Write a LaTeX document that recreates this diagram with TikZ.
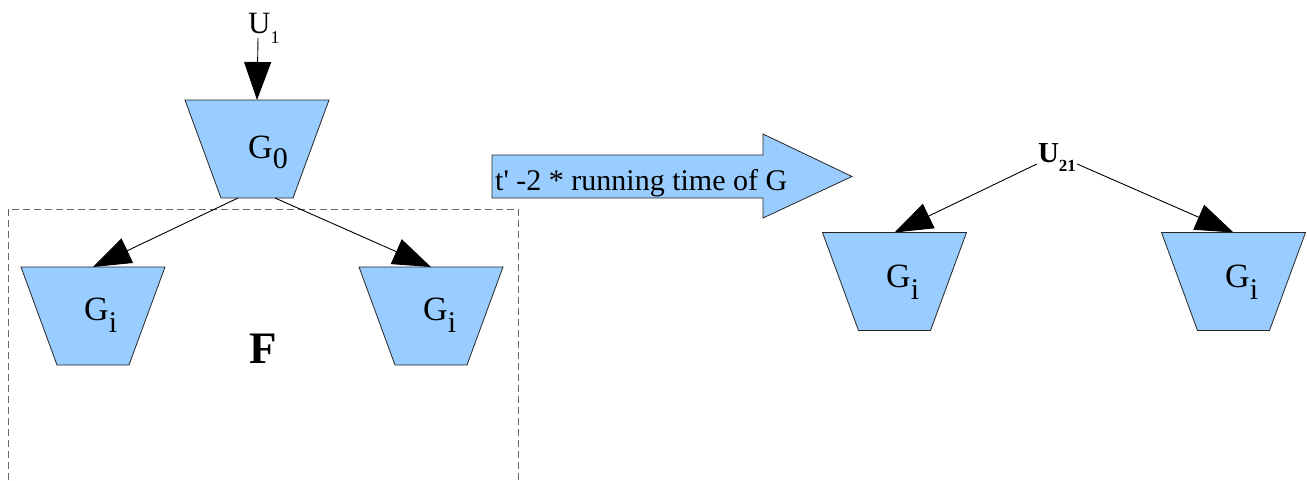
\documentclass[tikz,border=0pt]{standalone}
\usepackage{fontspec}
\setmainfont{Liberation Serif}
\usetikzlibrary{arrows.meta,calc}
\definecolor{boxblue}{HTML}{99CCFF}
\definecolor{dashgray}{HTML}{666666}
\newcommand\Gsub[2]{{\fontsize{34}{36}\selectfont G\raisebox{-#2pt}{\fontsize{30}{32}\selectfont #1}}}
\begin{document}
\begin{tikzpicture}[x=1pt,y=-1pt,
  box/.style={minimum width=144pt,minimum height=98pt,inner sep=0pt,outer sep=0pt},
  trapfill/.style={fill=boxblue,draw=black!85,line width=0.8pt},
  conn/.style={line width=0.9pt,-{Triangle[length=38pt,width=27pt]}},
  lab/.style={inner sep=0pt,anchor=base west}]
\useasboundingbox (0,0) rectangle (1307,480);
% dashed frame F
\draw[dashgray, line width=0.9pt, dash pattern=on 7pt off 4pt] (8,480) -- (8,209) -- (518,209) -- (518,480);
% trapezoid boxes
\node[box] (g0) at (257,149) {};
\node[box] (gl) at (93,316) {};
\node[box] (gr) at (431,316) {};
\node[box] (hl) at (894.5,281.5) {};
\node[box] (hr) at (1233.5,281.5) {};
\foreach \n in {g0,gl,gr,hl,hr}
  \draw[trapfill] (\n.north west) -- (\n.north east) -- ($(\n.south east)+(-36,0)$) -- ($(\n.south west)+(36,0)$) -- cycle;
% labels
\node[lab] (g0t) at (248,158) {\Gsub{0}{10}};
\node[lab] (glt) at (84,320) {\Gsub{i}{12}};
\node[lab] (grt) at (423,320) {\Gsub{i}{12}};
\node[lab] (hlt) at (886,287) {\Gsub{i}{12}};
\node[lab] (hrt) at (1225,287) {\Gsub{i}{12}};
\node[lab] (f) at (249,363) {\fontsize{45}{48}\selectfont\bfseries F};
\node[lab] (u1t) at (248,33) {\fontsize{31}{33}\selectfont U\raisebox{-10pt}{\fontsize{18}{19}\selectfont 1}};
\node[inner sep=1pt] (u21) at (1057,158) {\bfseries\fontsize{29}{30}\selectfont U\raisebox{-9pt}{\fontsize{17}{18}\selectfont 21}};
% block arrow
\draw[fill=boxblue, draw=black!85, line width=0.8pt] (492,155) -- (763,155) -- (763,134) -- (852,176.5) -- (763,218) -- (763,198) -- (492,198) -- cycle;
\node[lab] (bt) at (495,190) {\fontsize{30}{32}\selectfont t\textquotesingle{} -2 * running time of G};
% connectors
\coordinate (u1end) at (258,38);
\draw[conn] (u1end) -- (g0.north);
\draw[conn] ($(g0.south)+(-19,0)$) -- (gl.north);
\draw[conn] ($(g0.south)+(18,0)$) -- (gr.north);
\draw[conn] ($(u21.west)+(0,6)$) -- (hl.north);
\draw[conn] ($(u21.east)+(0,6)$) -- (hr.north);
\end{tikzpicture}
\end{document}
